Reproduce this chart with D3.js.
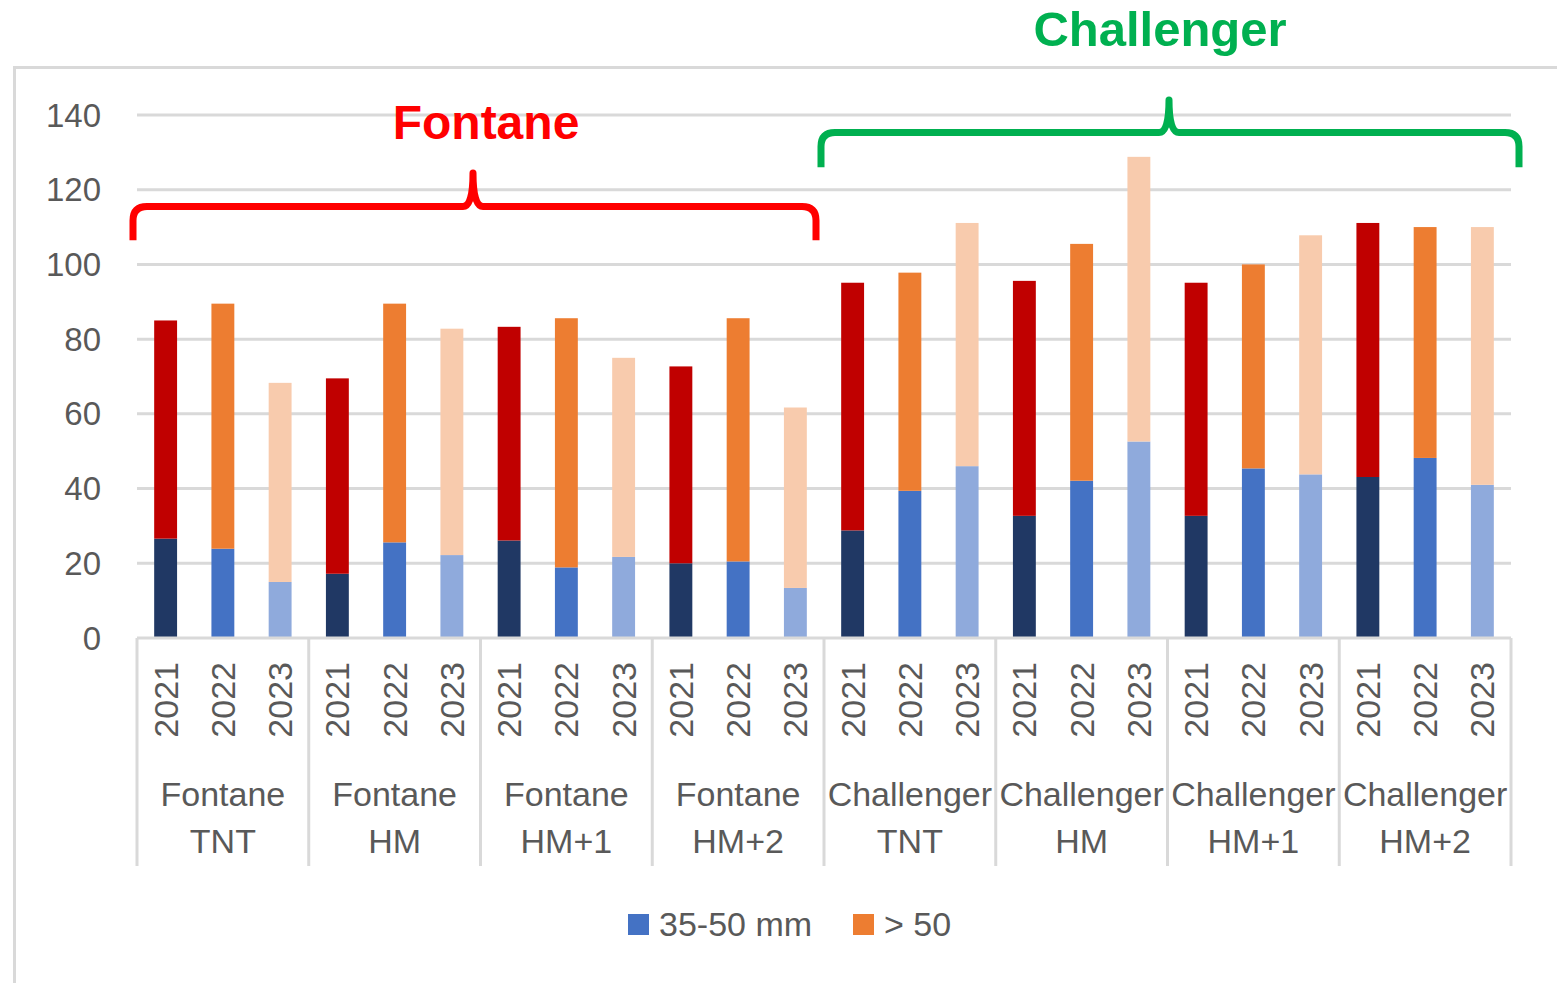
<!DOCTYPE html>
<html>
<head>
<meta charset="utf-8">
<script src="https://cdn.jsdelivr.net/npm/d3@7"></script>
<style>
  body { margin: 0; background: #fff; }
  text { font-family: "Liberation Sans", Arial, sans-serif; }
</style>
</head>
<body>
<svg id="chart"></svg>
<script>
// data
const groups = ["Fontane TNT", "Fontane HM", "Fontane HM+1", "Fontane HM+2",
	"Challenger TNT", "Challenger HM", "Challenger HM+1", "Challenger HM+2"];
const years = ["2021", "2022", "2023"];
// bottom segment, 35-50 mm (one value per group x year)
const small = [26.6, 23.9, 15, 17.2, 25.6, 22.2, 26.1, 18.9, 21.7, 20, 20.5, 13.4,
	28.8, 39.4, 46, 32.7, 42.1, 52.6, 32.7, 45.4, 43.8, 43.1, 48.2, 41];
// top segment, > 50
const large = [58.4, 65.6, 53.3, 52.3, 63.9, 60.6, 57.2, 66.7, 53.3, 52.7, 65.1, 48.3,
	66.3, 58.4, 65.1, 62.9, 63.4, 76.2, 62.4, 54.6, 64.0, 68.0, 61.8, 69.0];
const yTicks = [0, 20, 40, 60, 80, 100, 120, 140];
const seriesNames = ["35-50 mm", "> 50"];

const bottomColors = { "2021": "#203864", "2022": "#4472C4", "2023": "#8FAADC" };
const topColors = { "2021": "#C00000", "2022": "#ED7D31", "2023": "#F8CBAD" };

const size = { w: 1557, h: 983 };
const plot = { l: 137, r: 1511, t: 115, b: 638 };
const svg = d3.select("svg#chart").attr("width", size.w).attr("height", size.h);

// outer frame
svg.append("rect")
	.attr("x", 14.5).attr("y", 67.5)
	.attr("width", 1560).attr("height", 960)
	.attr("fill", "none").attr("stroke", "#d9d9d9").attr("stroke-width", 3);

const x0 = d3.scaleBand().domain(groups).range([plot.l, plot.r]);
const x1 = d3.scaleBand().domain(years).range([0, x0.bandwidth()])
	.paddingInner(0.6).paddingOuter(0.3);
const y = d3.scaleLinear().domain([0, 140]).range([plot.b, plot.t]);

// gridlines + y labels
const yAxis = svg.append("g").classed("axis-y", true);
yAxis.selectAll("line")
	.data(yTicks.filter((d) => d > 0))
	.join("line")
	.attr("x1", plot.l).attr("x2", plot.r)
	.attr("y1", (d) => y(d)).attr("y2", (d) => y(d))
	.attr("stroke", "#d9d9d9").attr("stroke-width", 3);
yAxis.selectAll("text")
	.data(yTicks)
	.join("text")
	.attr("x", 101).attr("y", (d) => y(d))
	.attr("dy", "0.35em")
	.attr("text-anchor", "end")
	.attr("font-size", 33).attr("fill", "#595959")
	.text((d) => d);

// flatten data
const rows = [];
groups.forEach((g, gi) => {
	years.forEach((yr, yi) => {
		const i = gi * years.length + yi;
		rows.push({ group: g, year: yr, small: small[i], large: large[i] });
	});
});

const bars = svg.append("g").classed("bars", true);
bars.selectAll("rect.small")
	.data(rows)
	.join("rect")
	.classed("small", true)
	.attr("x", (d) => x0(d.group) + x1(d.year))
	.attr("width", x1.bandwidth())
	.attr("y", (d) => y(d.small))
	.attr("height", (d) => y(0) - y(d.small))
	.attr("fill", (d) => bottomColors[d.year]);
bars.selectAll("rect.large")
	.data(rows)
	.join("rect")
	.classed("large", true)
	.attr("x", (d) => x0(d.group) + x1(d.year))
	.attr("width", x1.bandwidth())
	.attr("y", (d) => y(d.small + d.large))
	.attr("height", (d) => y(d.small) - y(d.small + d.large))
	.attr("fill", (d) => topColors[d.year]);

// category axis
const xAxis = svg.append("g").classed("axis-x", true);
xAxis.append("line")
	.attr("x1", plot.l).attr("x2", plot.r)
	.attr("y1", y(0)).attr("y2", y(0))
	.attr("stroke", "#d9d9d9").attr("stroke-width", 3);
const bounds = groups.map((g) => x0(g)).concat([plot.r]);
xAxis.selectAll("line.sep")
	.data(bounds)
	.join("line")
	.classed("sep", true)
	.attr("x1", (d) => d).attr("x2", (d) => d)
	.attr("y1", y(0)).attr("y2", 866)
	.attr("stroke", "#d9d9d9").attr("stroke-width", 3);

xAxis.selectAll("text.year")
	.data(rows)
	.join("text")
	.classed("year", true)
	.attr("transform", (d) => `translate(${x0(d.group) + x1(d.year) + x1.bandwidth() / 2}, 662) rotate(-90)`)
	.attr("dy", "0.35em")
	.attr("text-anchor", "end")
	.attr("font-size", 34).attr("fill", "#595959")
	.text((d) => d.year);

const groupText = xAxis.selectAll("text.group")
	.data(groups)
	.join("text")
	.classed("group", true)
	.attr("text-anchor", "middle")
	.attr("font-size", 34).attr("fill", "#595959");
groupText.each(function (g) {
	const parts = g.split(" ");
	const t = d3.select(this);
	const cx = x0(g) + x0.bandwidth() / 2;
	t.append("tspan").attr("x", cx).attr("y", 806).text(parts[0]);
	t.append("tspan").attr("x", cx).attr("y", 853).text(parts[1]);
});

// legend
const legend = svg.append("g").classed("legend", true);
const legendX = [628, 853];
const legendColors = ["#4472C4", "#ED7D31"];
seriesNames.forEach((name, i) => {
	legend.append("rect")
		.attr("x", legendX[i]).attr("y", 914)
		.attr("width", 21).attr("height", 21)
		.attr("fill", legendColors[i]);
	legend.append("text")
		.attr("x", legendX[i] + 31).attr("y", 924)
		.attr("dy", "0.35em")
		.attr("font-size", 34).attr("fill", "#595959")
		.text(name);
});

// brace annotations
function brace(x1b, x2b, yLine, peakX, peakY, endY, color) {
	const r = 14, s = 10;
	const p = d3.path();
	p.moveTo(x1b, endY);
	p.lineTo(x1b, yLine + r);
	p.quadraticCurveTo(x1b, yLine, x1b + r, yLine);
	p.lineTo(peakX - s, yLine);
	p.quadraticCurveTo(peakX, yLine, peakX, peakY);
	p.quadraticCurveTo(peakX, yLine, peakX + s, yLine);
	p.lineTo(x2b - r, yLine);
	p.quadraticCurveTo(x2b, yLine, x2b, yLine + r);
	p.lineTo(x2b, endY);
	svg.append("path")
		.attr("d", p.toString())
		.attr("fill", "none")
		.attr("stroke", color)
		.attr("stroke-width", 7)
		.attr("stroke-linejoin", "round");
}

const fontaneEnd = x0(groups[4]);
brace(plot.l - 4, fontaneEnd - 8, y(115.5), 473, y(124.5), y(106.5), "#FF0000");
brace(fontaneEnd - 3, plot.r + 8, y(135.3), 1169, y(144), y(126), "#00B050");

svg.append("text")
	.attr("x", 486).attr("y", 139)
	.attr("text-anchor", "middle")
	.attr("font-size", 48).attr("font-weight", "bold")
	.attr("fill", "#FF0000")
	.text("Fontane");
svg.append("text")
	.attr("x", 1160).attr("y", 46)
	.attr("text-anchor", "middle")
	.attr("font-size", 49).attr("font-weight", "bold")
	.attr("fill", "#00B050")
	.text("Challenger");
</script>
</body>
</html>
